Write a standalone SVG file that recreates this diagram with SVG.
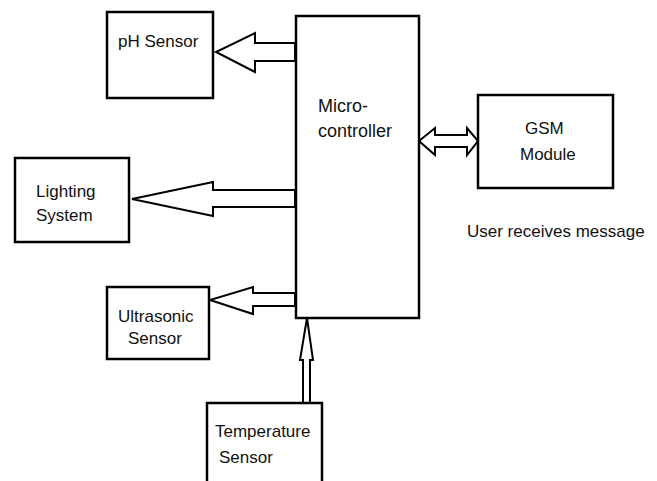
<svg xmlns="http://www.w3.org/2000/svg" width="657" height="481" viewBox="0 0 657 481">
<style>
.box{fill:#fff;stroke:#000;stroke-width:2.5}
.arr{fill:#fff;stroke:#000;stroke-width:2;stroke-linejoin:miter}
text{font-family:"Liberation Sans",Arial,sans-serif;font-size:17px;fill:#111}
.big{font-size:18px}
</style>
<rect width="657" height="481" fill="#fff"/>
<g id="connectors">
<polygon class="arr" points="295,43 255,43 255,33 216,52 255,72 255,61 295,61"/>
<polygon class="arr" points="295,190 213,190 213,182 132,199 213,216 213,207 295,207"/>
<polygon class="arr" points="295,293 253,293 253,287 210,300 253,314 253,306 295,306"/>
<polygon class="arr" points="303,403 303,360 300,360 307,318 313,360 310,360 310,403"/>
<polygon class="arr" points="419,141 435,128 435,135 467,135 467,128 478,141 467,155 467,147 435,147 435,155"/>
</g>
<g id="microcontroller">
<rect class="box" x="296" y="16" width="123" height="302"/>
<text class="big" x="318" y="112">Micro-</text>
<text class="big" x="318" y="137">controller</text>
</g>
<g id="ph-sensor">
<rect class="box" x="107" y="12" width="106" height="86"/>
<text x="118" y="47">pH Sensor</text>
</g>
<g id="lighting-system">
<rect class="box" x="15" y="158" width="114" height="84"/>
<text x="36" y="197">Lighting</text>
<text x="36" y="221">System</text>
</g>
<g id="ultrasonic-sensor">
<rect class="box" x="107" y="287" width="102" height="72"/>
<text x="118" y="322">Ultrasonic</text>
<text x="128" y="344">Sensor</text>
</g>
<g id="temperature-sensor">
<path class="box" d="M207,483 V403 H322 V483"/>
<text x="215" y="437">Temperature</text>
<text x="219" y="463">Sensor</text>
</g>
<g id="gsm-module">
<rect class="box" x="478" y="95" width="135" height="93"/>
<text x="525" y="134">GSM</text>
<text x="520" y="160">Module</text>
</g>
<text x="467" y="237">User receives message</text>
</svg>
